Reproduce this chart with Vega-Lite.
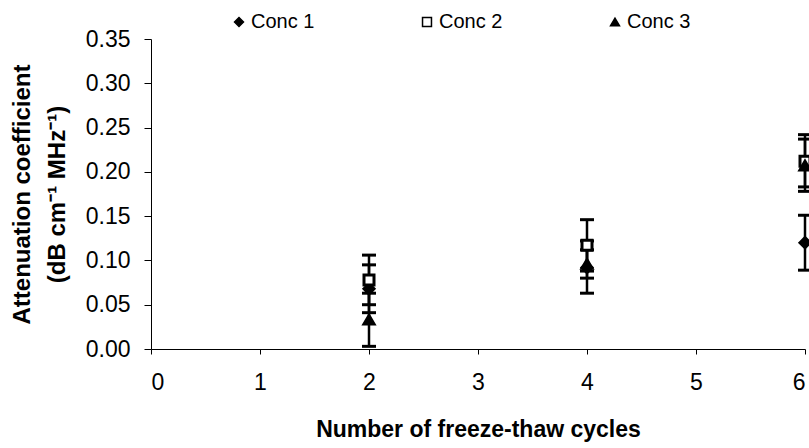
{
  "$schema": "https://vega.github.io/schema/vega-lite/v6.json",
  "autosize": {"type": "none"},
  "width": 654,
  "height": 310,
  "padding": {"left": 151, "top": 39, "right": 4, "bottom": 99},
  "background": "white",
  "config": {
    "font": "Liberation Sans",
    "view": {"stroke": null},
    "axis": {
      "grid": false,
      "domainColor": "black",
      "tickColor": "black",
      "labelColor": "black",
      "titleColor": "black",
      "labelFont": "Liberation Sans",
      "titleFont": "Liberation Sans",
      "labelFontSize": 23,
      "titleFontSize": 23,
      "titleFontWeight": "bold"
    },
    "legend": {
      "labelFontSize": 20,
      "labelFont": "Liberation Sans",
      "labelColor": "black"
    }
  },
  "data": {
    "values": [
      {"series": "Conc 1", "cycles": 2, "atten": 0.068, "lo": 0.041, "hi": 0.095},
      {"series": "Conc 1", "cycles": 4, "atten": 0.092, "lo": 0.063, "hi": 0.122},
      {"series": "Conc 1", "cycles": 6, "atten": 0.120, "lo": 0.089, "hi": 0.151},
      {"series": "Conc 2", "cycles": 2, "atten": 0.078, "lo": 0.050, "hi": 0.106},
      {"series": "Conc 2", "cycles": 4, "atten": 0.117, "lo": 0.088, "hi": 0.146},
      {"series": "Conc 2", "cycles": 6, "atten": 0.212, "lo": 0.183, "hi": 0.242},
      {"series": "Conc 3", "cycles": 2, "atten": 0.033, "lo": 0.003, "hi": 0.063},
      {"series": "Conc 3", "cycles": 4, "atten": 0.096, "lo": 0.080, "hi": 0.112},
      {"series": "Conc 3", "cycles": 6, "atten": 0.207, "lo": 0.178, "hi": 0.237}
    ]
  },
  "encoding": {
    "x": {
      "field": "cycles",
      "type": "quantitative",
      "scale": {"domain": [0, 6], "nice": false, "zero": false},
      "axis": {
        "title": "Number of freeze-thaw cycles",
        "values": [0, 1, 2, 3, 4, 5, 6],
        "format": "d",
        "tickSize": 5,
        "labelPadding": 17,
        "titlePadding": 24
      }
    }
  },
  "layer": [
    {
      "mark": {"type": "rule", "color": "black", "strokeWidth": 2.5},
      "encoding": {
        "y": {"field": "lo", "type": "quantitative", "scale": {"domain": [0, 0.35], "nice": false}},
        "y2": {"field": "hi"}
      }
    },
    {
      "mark": {"type": "tick", "orient": "horizontal", "color": "black", "opacity": 1, "size": 14, "thickness": 3},
      "encoding": {"y": {"field": "lo", "type": "quantitative"}}
    },
    {
      "mark": {"type": "tick", "orient": "horizontal", "color": "black", "opacity": 1, "size": 14, "thickness": 3},
      "encoding": {"y": {"field": "hi", "type": "quantitative"}}
    },
    {
      "mark": {"type": "point", "stroke": "black", "strokeWidth": 3, "opacity": 1, "size": 100},
      "encoding": {
        "y": {
          "field": "atten",
          "type": "quantitative",
          "axis": {
            "title": ["Attenuation coefficient", "(dB cm⁻¹ MHz⁻¹)"],
            "titleFontSize": 24,
            "titleLineHeight": 35,
            "values": [0, 0.05, 0.1, 0.15, 0.2, 0.25, 0.3, 0.35],
            "format": ".2f",
            "tickSize": 7,
            "labelPadding": 14,
            "titlePadding": 16
          }
        },
        "shape": {
          "field": "series",
          "type": "nominal",
          "scale": {"domain": ["Conc 1", "Conc 2", "Conc 3"], "range": ["diamond", "square", "triangle-up"]},
          "legend": {
            "title": null,
            "orient": "none",
            "direction": "horizontal",
            "columns": 3,
            "legendX": 78,
            "legendY": -27,
            "columnPadding": 102,
            "symbolSize": 80,
            "labelOffset": 2,
            "encode": {
              "symbols": {
                "update": {
                  "stroke": {"value": "black"},
                  "strokeWidth": {"value": 2.5},
                  "opacity": {"value": 1}
                }
              }
            }
          }
        },
        "fill": {
          "field": "series",
          "type": "nominal",
          "scale": {"domain": ["Conc 1", "Conc 2", "Conc 3"], "range": ["black", "white", "black"]},
          "legend": {
            "title": null,
            "orient": "none",
            "direction": "horizontal",
            "columns": 3,
            "legendX": 78,
            "legendY": -27,
            "columnPadding": 102,
            "symbolSize": 80,
            "labelOffset": 2,
            "encode": {
              "symbols": {
                "update": {
                  "stroke": {"value": "black"},
                  "strokeWidth": {"value": 2.5},
                  "opacity": {"value": 1}
                }
              }
            }
          }
        }
      }
    }
  ]
}
